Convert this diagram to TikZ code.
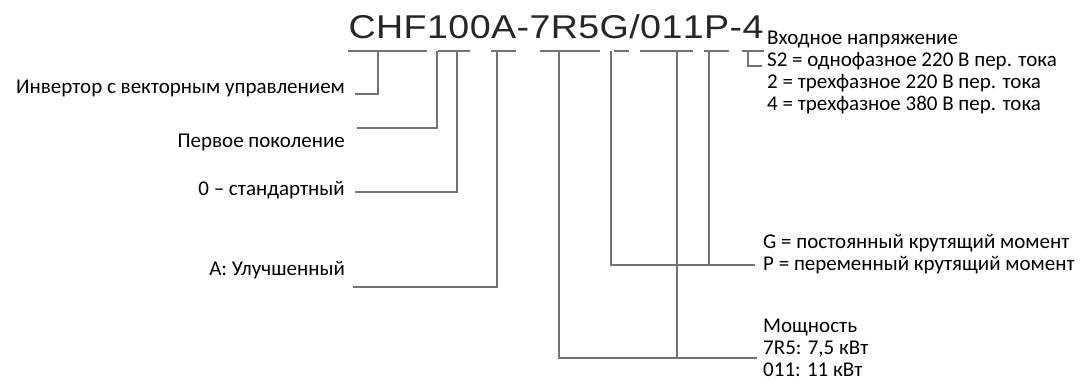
\documentclass[tikz,border=0pt]{standalone}
\usepackage{fontspec}
\setmainfont{Carlito}
\newfontfamily\codefont[FakeStretch=1.14]{Liberation Sans}

\tikzset{
  chr/.style={font=\codefont\fontsize{33}{36}\selectfont, text=black!85, inner sep=0pt, anchor=base west},
  lbl/.style={font=\fontsize{21}{21.7}\selectfont, inner sep=0pt},
  uline/.style={draw=black!55, line width=1.1pt},
  lead/.style={draw=black!55, line width=1.1pt},
}

\begin{document}
\begin{tikzpicture}[x=1pt,y=-1pt]
\useasboundingbox (0,0) rectangle (1085,383);
% model code, one node per character
\node[chr] (c0) at (347,38) {};
\foreach \ch [count=\i, remember=\i as \j (initially 0)] in {C,H,F,1,0,0,A,-,7,R,5,G,/,0,1,1,P,-,4}
  \node[chr] (c\i) at (c\j.base east) {\ch};
% underlines
\coordinate (ul) at (0,51);
\foreach \a/\b in {c1.west/c3.east, c4.center/c4.east, c5.west/c5.east, c7.west/c7.east, c9.center/c11.east, c12.center/c12.east, c14.west/c16.center, c17.west/c17.east, c19.west/c19.east}
  \draw[uline] (\a |- ul) -- (\b |- ul);
% tick points
\foreach \n/\x in {tInv/378, tGen/437, tStd/457, tImp/497, tPow/559, tG/611, tPw/677, tP/709, tV/748}
  \coordinate (\n) at (\x,51);

% left labels
\node[lbl, anchor=east] (inv) at (345,88) {Инвертор с векторным управлением};
\node[lbl, anchor=east] (gen) at (345,142) {Первое поколение};
\node[lbl, anchor=east] (std) at (345,190) {0 – стандартный};
\node[lbl, anchor=east] (imp) at (345,270) {A: Улучшенный};
% right labels
\node[lbl, anchor=west, align=left] (volt) at (767,72.5) {Входное напряжение\\S2 = однофазное 220 В пер. тока\\2 = трехфазное 220 В пер. тока\\4 = трехфазное 380 В пер. тока};
\node[lbl, anchor=west, align=left] (torq) at (763,254) {G = постоянный крутящий момент\\P = переменный крутящий момент};
\node[lbl, anchor=west, align=left] (pow) at (763,348) {Мощность\\7R5: 7,5 кВт\\011: 11 кВт};

% leads
\draw[lead] (tInv) |- ([xshift=10pt,yshift=-6pt]inv.east);
\draw[lead] (tGen) |- ([xshift=12pt,yshift=14pt]gen.east);
\draw[lead] (tStd) |- ([xshift=10pt,yshift=-2pt]std.east);
\draw[lead] (tImp) |- ([xshift=8pt,yshift=-17pt]imp.east);
\draw[lead] (tV) |- ([xshift=-5pt,yshift=6.5pt]volt.west);
\coordinate (eTorq) at ([xshift=-8pt,yshift=-11pt]torq.west);
\draw[lead] (tG) |- (eTorq);
\draw[lead] (tP) -- (tP |- eTorq);
\coordinate (ePow) at ([xshift=-6pt,yshift=-10pt]pow.west);
\draw[lead] (tPow) |- (ePow);
\draw[lead] (tPw) -- (tPw |- ePow);
\end{tikzpicture}
\end{document}
